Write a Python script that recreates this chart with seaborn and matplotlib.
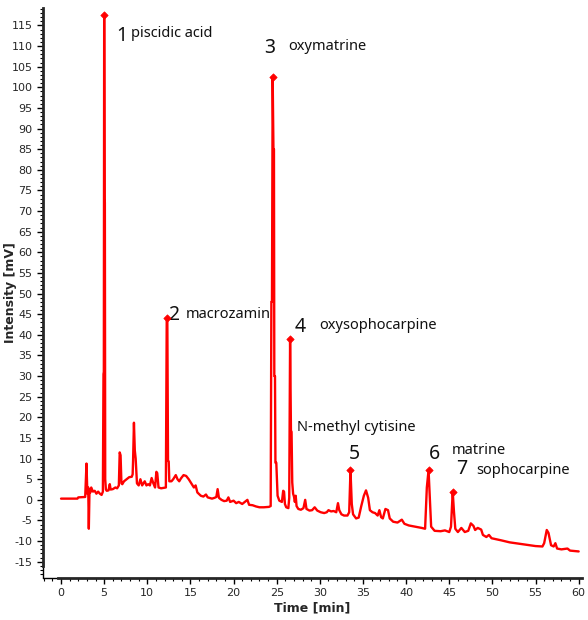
import numpy as np
import pandas as pd
import matplotlib
matplotlib.use("Agg")
import matplotlib.pyplot as plt
import seaborn as sns
from matplotlib.ticker import MultipleLocator

# ---- data ----
time_min = [
    0.0, 1.9, 2.0, 2.8, 2.85, 2.95, 3.05, 3.15, 3.22, 3.3, 3.4, 3.5, 3.7, 3.9, 4.1, 4.3, 4.5, 4.7, 4.85,
    4.92, 4.96, 5.0, 5.05, 5.08, 5.12, 5.2, 5.3, 5.5, 5.65, 5.75, 6.0, 6.3, 6.5, 6.7, 6.8, 6.9, 7.0, 7.1,
    7.3, 7.6, 7.9, 8.2, 8.3, 8.35, 8.45, 8.55, 8.65, 8.75, 8.8, 9.0, 9.2, 9.4, 9.7, 9.9, 10.1, 10.3, 10.5,
    10.7, 10.9, 11.05, 11.15, 11.3, 11.6, 11.9, 12.15, 12.25, 12.32, 12.4, 12.48, 12.55, 12.8, 13.0, 13.3,
    13.5, 13.7, 13.9, 14.2, 14.5, 14.8, 15.1, 15.4, 15.6, 15.8, 16.2, 16.5, 16.8, 17.0, 17.5, 17.8, 18.0,
    18.15, 18.3, 18.6, 18.9, 19.2, 19.4, 19.6, 20.0, 20.3, 20.6, 21.0, 21.3, 21.6, 21.8, 22.2, 22.6, 23.0,
    23.5, 24.1, 24.3, 24.38, 24.45, 24.53, 24.62, 24.68, 24.72, 24.8, 24.85, 24.95, 25.1, 25.3, 25.6,
    25.75, 25.85, 25.95, 26.1, 26.35, 26.45, 26.55, 26.65, 26.72, 26.8, 26.9, 27.0, 27.1, 27.2, 27.3, 27.5,
    27.8, 28.1, 28.3, 28.45, 28.8, 29.1, 29.4, 29.7, 30.1, 30.5, 30.8, 31.0, 31.3, 31.6, 31.9, 32.1, 32.25,
    32.5, 32.8, 33.2, 33.4, 33.55, 33.7, 33.85, 34.2, 34.5, 34.8, 35.1, 35.35, 35.6, 35.8, 36.1, 36.4, 36.7,
    36.9, 37.1, 37.3, 37.6, 37.9, 38.1, 38.5, 39.0, 39.5, 39.8, 40.3, 40.8, 41.3, 41.8, 42.2, 42.4, 42.6,
    42.75, 42.9, 43.3, 44.0, 44.5, 45.0, 45.2, 45.4, 45.55, 45.7, 46.0, 46.4, 46.8, 47.2, 47.5, 47.8, 48.0,
    48.3, 48.7, 48.9, 49.3, 49.6, 49.9, 51.0, 52.0, 53.0, 54.0, 55.0, 55.8, 56.0, 56.3, 56.5, 56.8, 57.1,
    57.3, 57.5, 58.0, 58.7, 59.0, 60.0,
]
intensity_mv = [
    0.3, 0.3, 0.6, 0.7, 3.5, 8.8, 1.5, 3.0, -7.0, 2.5, 1.8, 3.0, 2.0, 2.2, 1.5, 2.0, 1.5, 1.2, 2.0,
    30.5, 31.0, 117.5, 73.0, 72.0, 5.0, 2.5, 2.2, 2.3, 3.8, 2.5, 2.6, 3.0, 2.8, 3.5, 11.5, 10.8, 4.0, 3.8,
    4.5, 5.0, 5.5, 5.6, 6.2, 9.5, 18.7, 12.0, 10.0, 6.0, 4.0, 3.5, 5.0, 3.5, 4.5, 3.5, 3.8, 3.5, 5.3,
    4.0, 3.0, 6.8, 6.5, 3.0, 2.8, 2.9, 3.0, 43.5, 44.0, 9.5, 9.3, 4.5, 4.5, 5.0, 6.0,
    5.0, 4.5, 5.2, 6.0, 5.8, 5.0, 4.0, 3.0, 3.5, 1.8, 1.0, 0.8, 1.3, 0.6, 0.3, 0.5, 0.7,
    2.6, 0.5, 0.0, -0.3, -0.2, 0.6, -0.5, -0.2, -0.8, -0.5, -1.0, -0.5, 0.0, -1.2, -1.3, -1.6, -1.8,
    -1.8, -1.7, -1.5, 48.0, 48.0, 102.5, 85.0, 85.0, 30.0, 30.0, 9.0, 9.0, 1.0, -0.2, -0.5,
    2.2, 2.0, -1.0, -1.8, -2.0, 0.5, 39.0, 16.7, 16.5, 4.2, 1.5, 0.8, -0.5, 1.0, -1.5, -2.2,
    -2.4, -2.0, 0.0, -2.2, -2.6, -2.5, -1.8, -2.6, -3.0, -3.2, -3.0, -2.5, -2.8, -2.7, -3.0, -0.8, -2.5,
    -3.5, -3.8, -3.8, -3.0, 7.2, -1.0, -3.5, -4.5, -4.3, -1.5, 1.0, 2.3, 0.5, -2.5, -3.0, -3.2, -3.8,
    -2.5, -4.2, -4.5, -2.2, -2.5, -4.5, -5.3, -5.5, -4.8, -5.8, -6.2, -6.4, -6.6, -6.8, -7.0, 3.0, 7.2,
    0.5, -6.5, -7.5, -7.6, -7.4, -7.8, -6.5, 2.0, -3.0, -7.0, -7.8, -6.8, -7.8, -7.5, -5.7, -6.3, -7.3,
    -6.8, -7.2, -8.5, -9.0, -8.5, -9.3, -9.8, -10.3, -10.6, -10.9, -11.2, -11.3, -10.5, -7.3, -8.0, -11.0, -11.3,
    -10.5, -11.8, -12.0, -11.8, -12.3, -12.5,
]

peak_numbers = ["1", "2", "3", "4", "5", "6", "7"]
peak_times = [5.0, 12.32, 24.53, 26.55, 33.55, 42.6, 45.4]
peak_heights = [117.5, 44.0, 102.5, 39.0, 7.2, 7.2, 2.0]

peak_names = ["piscidic acid", "macrozamin", "oxymatrine", "oxysophocarpine",
              "N-methyl cytisine", "matrine", "sophocarpine"]

# label placement (data coords)
num_pos = [(7.07, 112.4), (13.0, 44.9), (24.2, 109.5), (27.7, 42.0),
           (33.95, 11.2), (43.3, 11.2), (46.5, 7.5)]
name_pos = [(8.1, 113.0), (14.5, 45.0), (26.3, 109.8), (29.9, 42.2),
            (27.35, 17.5), (45.3, 11.9), (48.1, 7.0)]

df = pd.DataFrame({"t": time_min, "v": intensity_mv})
pk = pd.DataFrame({"t": peak_times, "v": peak_heights})

sns.set_style("white")
plt.rcParams["font.family"] = ["DejaVu Sans"]
plt.rcParams["axes.unicode_minus"] = False

fig = plt.figure(figsize=(5.88, 6.2), dpi=100)
ax = fig.add_axes([0.073, 0.068, 0.917, 0.919])

sns.lineplot(data=df, x="t", y="v", ax=ax, color="#ff0000", lw=1.7,
             estimator=None, sort=False)
sns.scatterplot(data=pk, x="t", y="v", ax=ax, color="#ff0000", marker="D",
                s=14, edgecolor="#ff0000", linewidth=0.5, zorder=5)

for lab, (x, y) in zip(peak_numbers, num_pos):
    ax.text(x, y, lab, fontsize=14, ha="center", va="center", fontweight="medium",
            family=["Noto Sans"], color="#111111")
for lab, (x, y) in zip(peak_names, name_pos):
    ax.text(x, y, lab, fontsize=10.5, ha="left", va="center",
            family=["Noto Sans"], color="#111111")

ax.set_xlim(-2.1, 60.4)
ax.set_ylim(-18.9, 119.2)
ax.xaxis.set_minor_locator(MultipleLocator(1))
ax.yaxis.set_minor_locator(MultipleLocator(1))
ax.set_xticks(np.arange(0, 61, 5))
ax.set_yticks(np.arange(-15, 116, 5))

for s in ["top", "right"]:
    ax.spines[s].set_visible(False)
ax.spines["left"].set_linewidth(2.0)
ax.spines["left"].set_bounds(-16.0, 119.2)
ax.spines["bottom"].set_linewidth(2.0)
ax.spines["bottom"].set_bounds(-0.35, 60.4)
# thin frame corner continuation
ax.plot([0, 0], [0, 0.03], transform=ax.transAxes, color="black", lw=1, clip_on=False)
ax.plot([0, 0.03], [0, 0], transform=ax.transAxes, color="black", lw=1, clip_on=False)

ax.tick_params(axis="both", which="major", direction="out", length=4, width=1,
               labelsize=8, color="black", left=True, bottom=True)
ax.tick_params(axis="both", which="minor", direction="out", length=2, width=0.8,
               color="black", left=True, bottom=True)

ax.set_xlabel("Time [min]", fontsize=9, fontweight="bold", labelpad=2)
ax.set_ylabel("Intensity [mV]", fontsize=9, fontweight="bold")
ax.yaxis.set_label_coords(-0.048, 0.5)

fig.savefig("out.png", dpi=100)
